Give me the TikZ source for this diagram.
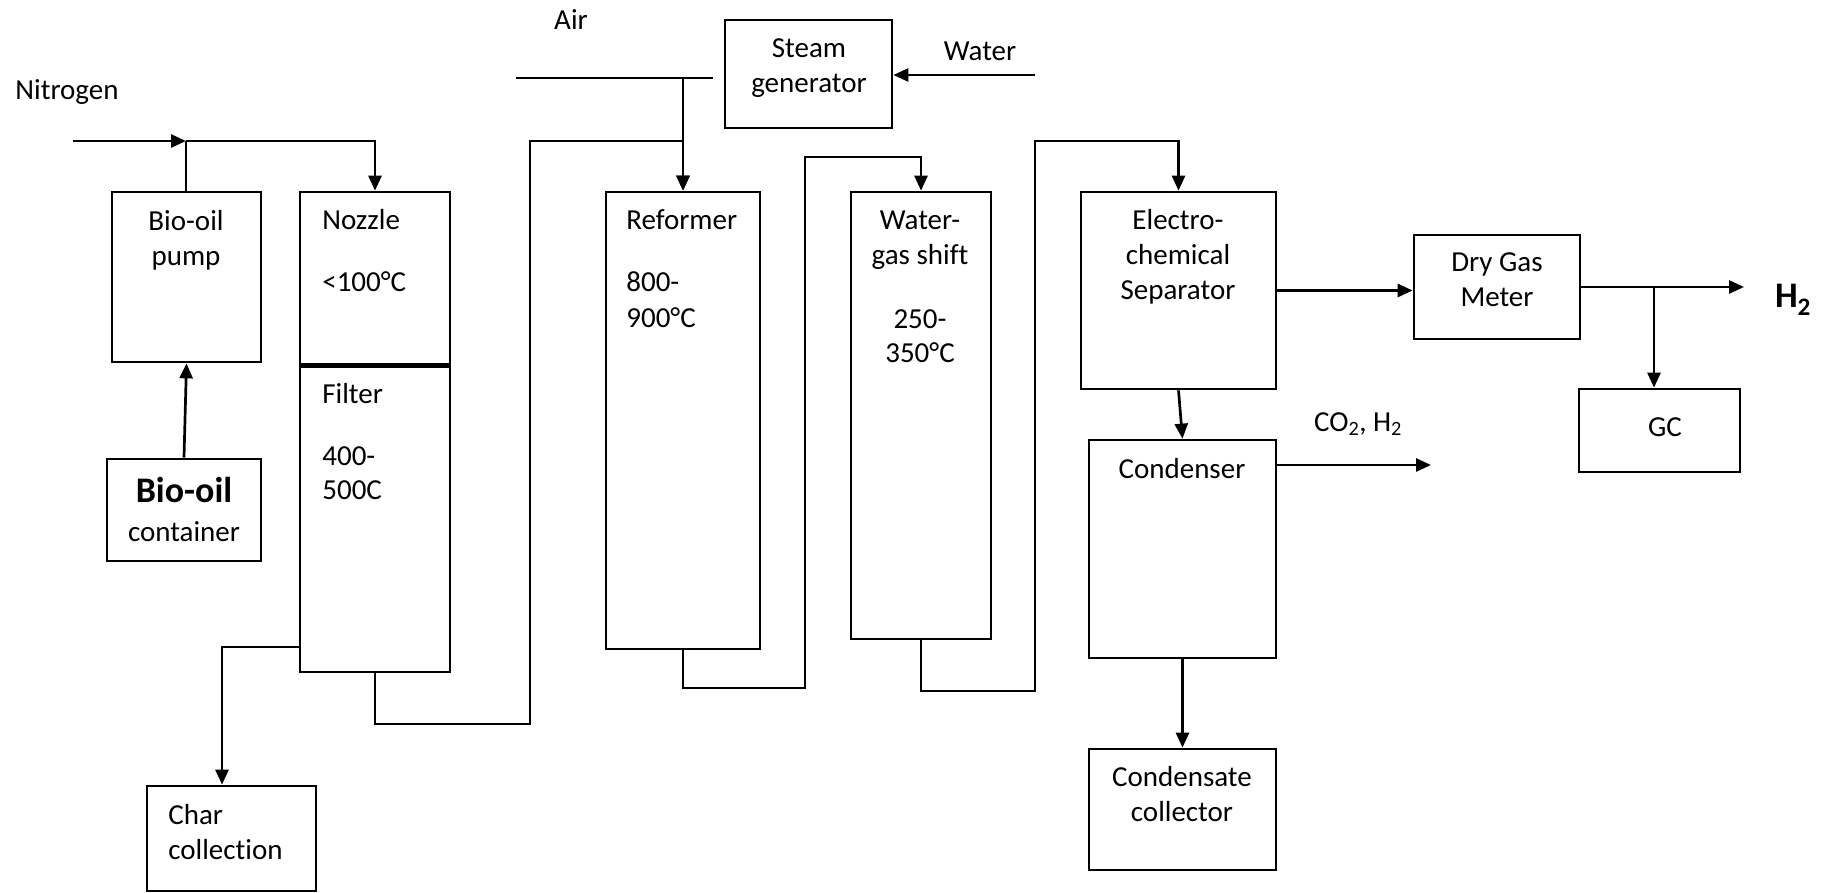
\documentclass[tikz,border=0pt]{standalone}
\usepackage{fontspec}
\setmainfont[Ligatures={NoCommon}]{Carlito}
\usetikzlibrary{arrows.meta}
\begin{document}
\begin{tikzpicture}[x=1pt,y=-1pt,line width=2.7pt,
  bx/.style={draw,line width=2.7pt,inner sep=0pt},
  arr/.style={-{Triangle[length=15pt,width=13pt]}},
  t/.style={inner sep=0pt,anchor=base,font=\fontsize{29}{35}\selectfont},
  tl/.style={t,anchor=base west},
  tb/.style={inner sep=0pt,anchor=base,font=\fontsize{36}{40}\selectfont\bfseries}]
\useasboundingbox (0,0) rectangle (1826,893);
% boxes
\node[bx,minimum width=149pt,minimum height=170pt] (pump) at (186.5,277) {};
\node[bx,minimum width=150pt,minimum height=172pt] (nozzle) at (375,278) {};
\node[bx,minimum width=150pt,minimum height=308pt] (filter) at (375,518) {};
\node[bx,minimum width=154pt,minimum height=102pt] (container) at (184,510) {};
\node[bx,minimum width=169pt,minimum height=105pt] (char) at (231.5,838.5) {};
\node[bx,minimum width=167pt,minimum height=108pt] (steam) at (808.5,74) {};
\node[bx,minimum width=154pt,minimum height=457pt] (reformer) at (683,420.5) {};
\node[bx,minimum width=140pt,minimum height=447pt] (wgs) at (921,415.5) {};
\node[bx,minimum width=195pt,minimum height=197pt] (ecs) at (1178.5,290.5) {};
\node[bx,minimum width=166pt,minimum height=104pt] (dgm) at (1497,287) {};
\node[bx,minimum width=161pt,minimum height=83pt] (gc) at (1659.5,430.5) {};
\node[bx,minimum width=187pt,minimum height=218pt] (cond) at (1182.5,549) {};
\node[bx,minimum width=187pt,minimum height=121pt] (coll) at (1182.5,809.5) {};
\draw[line width=5pt] (nozzle.south west) -- (nozzle.south east);
% texts
\node[t] (tnit) at (67,100) {Nitrogen};
\node[t] (tair) at (571,30) {Air};
\node[t] (twater) at (980,61) {Water};
\node[t] (tsteam1) at (809,58) {Steam};
\node[t] (tsteam2) at (809,93) {generator};
\node[t] (tpump1) at (186,231) {Bio-oil};
\node[t] (tpump2) at (186,266) {pump};
\node[tb] (tcont1) at (184,502) {Bio-oil};
\node[t] (tcont2) at (184,541) {container};
\node[tl] (tnoz1) at (321,230) {Nozzle};
\node[tl] (tnoz2) at (321,292) {<100°C};
\node[tl] (tfil1) at (321,403) {Filter};
\node[tl] (tfil2) at (321,465) {400-};
\node[tl] (tfil3) at (321,499) {500C};
\node[tl] (tchar1) at (167,824) {Char};
\node[tl] (tchar2) at (167,859) {collection};
\node[tl] (tref1) at (625,230) {Reformer};
\node[tl] (tref2) at (625,292) {800-};
\node[tl] (tref3) at (625,327) {900°C};
\node[t] (twgs1) at (920,230) {Water-};
\node[t] (twgs2) at (920,265) {gas shift};
\node[t] (twgs3) at (920,329) {250-};
\node[t] (twgs4) at (920,362) {350°C};
\node[t] (tecs1) at (1178,230) {Electro-};
\node[t] (tecs2) at (1178,265) {chemical};
\node[t] (tecs3) at (1178,300) {Separator};
\node[t] (tdgm1) at (1497,272) {Dry Gas};
\node[t] (tdgm2) at (1497,307) {Meter};
\node[tb] (th2) at (1793,308) {H\textsubscript{2}};
\node[t] (tgc) at (1665,436) {GC};
\node[t] (tco) at (1358,431) {CO\textsubscript{2}, H\textsubscript{2}};
\node[t] (tcond) at (1182,478) {Condenser};
\node[t] (tcoll1) at (1182,786) {Condensate};
\node[t] (tcoll2) at (1182,821) {collector};
% connectors
\coordinate (nin) at (73,141);
\coordinate (nj) at (186,141);
\draw[arr] (nin) -- (nj);
\draw (nj) -- (nj |- pump.north);
\draw[arr] (nj) -| (nozzle.north);
\draw[arr] (container.north) -- (pump.south);
\coordinate (cj) at (222,647);
\draw[arr] (filter.west |- cj) -- (cj) -- (cj |- char.north);
\coordinate (f1) at (375,724);
\coordinate (f2) at (530,141);
\draw[arr] (filter.south) -- (f1) -| (f2) -| (reformer.north);
\coordinate (a1) at (516,78);
\coordinate (a2) at (713,78);
\draw (a1) -- (a2);
\draw[arr] (reformer.north |- a1) -- (reformer.north);
\coordinate (w1) at (1035,75);
\draw[arr] (w1) -- (steam.east |- w1);
\coordinate (r1) at (683,688);
\coordinate (r2) at (805,157);
\draw[arr] (reformer.south) -- (r1) -| (r2) -| (wgs.north);
\coordinate (g1) at (921,691);
\coordinate (g2) at (1035,141);
\draw[arr] (wgs.south) -- (g1) -| (g2) -| (ecs.north);
\draw[arr] (ecs.east) -- (dgm.west |- ecs.east);
\coordinate (hout) at (1744,287);
\draw[arr] (dgm.east) -- (hout);
\coordinate (gj) at (1654,287);
\draw[arr] (gj) -- (gj |- gc.north);
\draw[arr] (ecs.south) -- (cond.north);
\coordinate (co) at (1431,465);
\draw[arr] (cond.east |- co) -- (co);
\draw[arr] (cond.south) -- (coll.north);
\end{tikzpicture}
\end{document}
